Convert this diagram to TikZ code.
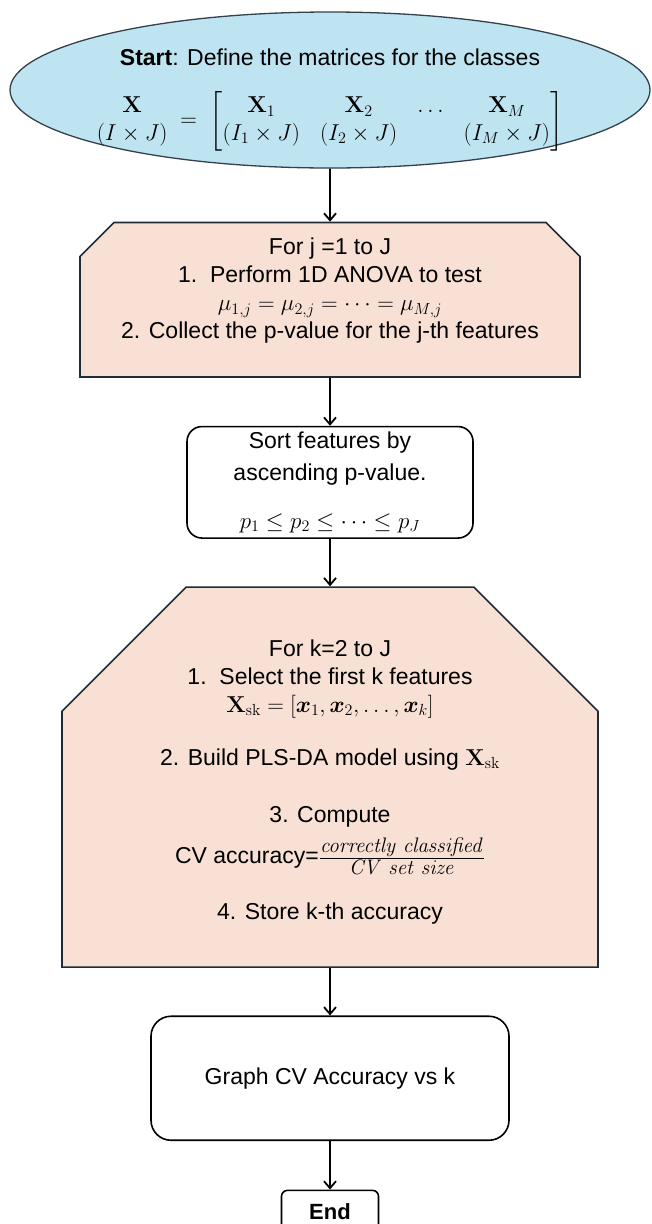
\RequirePackage{fix-cm}
\documentclass[tikz,border=0pt]{standalone}
\usepackage{amsmath}
\usepackage[no-math]{fontspec}
\setmainfont{Liberation Sans}
\usepackage{tikz}
\usetikzlibrary{positioning, shapes.geometric, shapes.misc, arrows.meta}
\definecolor{skyfill}{HTML}{BFE4F1}
\definecolor{skyedge}{HTML}{34404C}
\definecolor{peach}{HTML}{F9E0D4}
\definecolor{edgenavy}{HTML}{1E2C3A}
% invisible box that keeps the chamfer of an empty node
\newcommand{\spacer}[2]{\hbox to #1{\vrule width 0pt height #2\hfil}}
% italic words of the accuracy fraction
\newcommand{\fracword}[1]{\mbox{\fontsize{21}{21}\selectfont$\mathit{#1}$}}

\begin{document}
\begin{tikzpicture}[node distance=47.5pt, >={Straight Barb[length=7pt,width=12pt]},
    flow/.style={->, line width=1.8pt, black},
    startnode/.style={ellipse, draw=skyedge, line width=1.3pt, fill=skyfill, inner sep=0pt,
        minimum width=640pt, minimum height=156pt},
    loopbox/.style={chamfered rectangle, chamfered rectangle corners={north west, north east},
        draw=edgenavy, line width=1.6pt, fill=peach, inner sep=0pt},
    stepbox/.style={rectangle, draw=black, line width=1.6pt, fill=white, align=center, inner sep=0pt,
        font=\fontsize{23}{28}\selectfont},
    boxtext/.style={align=center, inner sep=0pt, font=\fontsize{23}{28}\selectfont}]
\useasboundingbox (0pt,0pt) rectangle (652pt,-1224pt);

% Start
\node[startnode] (start) at (330pt,-90pt) {};
\node[boxtext] (starttext) at ([yshift=-10pt]start.center) {\textbf{Start}: Define the matrices for the classes\\[24pt]
    $\setlength{\arraycolsep}{10pt}
    \begin{array}{@{}c@{}}\mathbf{X}\\(I\times J)\end{array}
    \;=\;\left[\begin{array}{@{}cccc@{}}\mathbf{X}_1 & \mathbf{X}_2 & \ldots & \mathbf{X}_M\\
    (I_1\times J) & (I_2\times J) & & (I_M\times J)\end{array}\right]$};

% ANOVA loop over features
\node[loopbox, below=53pt of start, minimum width=500pt, minimum height=154.5pt,
    chamfered rectangle xsep=17pt, chamfered rectangle ysep=17pt] (anova) {\spacer{440pt}{118pt}};
\node[boxtext] (anovatext) at ([yshift=9pt]anova.center) {For j =1 to J\\
    1.\ \ Perform 1D ANOVA to test\\
    $\mu_{1,j}=\mu_{2,j}=\cdots=\mu_{M,j}$\\
    2. Collect the p-value for the j-th features};

% Sorting
\node[stepbox, rounded corners=15pt, below=48pt of anova, minimum width=286pt, minimum height=111.5pt,
    font=\fontsize{23}{32}\selectfont] (sort)
    {Sort features by\\ascending p-value.\\[16pt]$p_1\le p_2\le\cdots\le p_J$};

% Forward selection loop
\node[loopbox, below=of sort, minimum width=536pt, minimum height=380pt,
    chamfered rectangle xsep=62pt, chamfered rectangle ysep=62pt] (select) {\spacer{400pt}{250pt}};
\node[boxtext] (selecttext) at ([yshift=-5pt]select.center) {For k=2 to J\\
    1.\ \ Select the first k features\\
    $\mathbf{X}_{\mathrm{sk}}=[\boldsymbol{x}_1,\boldsymbol{x}_2,\ldots,\boldsymbol{x}_k]$\\[25pt]
    2. Build PLS-DA model using $\mathbf{X}_{\mathrm{sk}}$\\[29pt]
    3. Compute\\[10pt]
    CV accuracy=$\frac{\fracword{correctly\ classified}}{\fracword{CV\ set\ size}}$\\[28pt]
    4. Store k-th accuracy};

% Plot and finish
\node[stepbox, rounded corners=20pt, below=of select, minimum width=358pt, minimum height=124pt] (graph)
    {Graph CV Accuracy vs k};
\node[stepbox, rounded corners=6pt, below=48.5pt of graph, minimum width=97pt, minimum height=42pt,
    font=\fontsize{22}{26}\selectfont\bfseries] (end) {End};

\draw[flow] (start) -- (anova);
\draw[flow] (anova) -- (sort);
\draw[flow] (sort) -- (select);
\draw[flow] (select) -- (graph);
\draw[flow] (graph) -- (end);
\end{tikzpicture}
\end{document}
